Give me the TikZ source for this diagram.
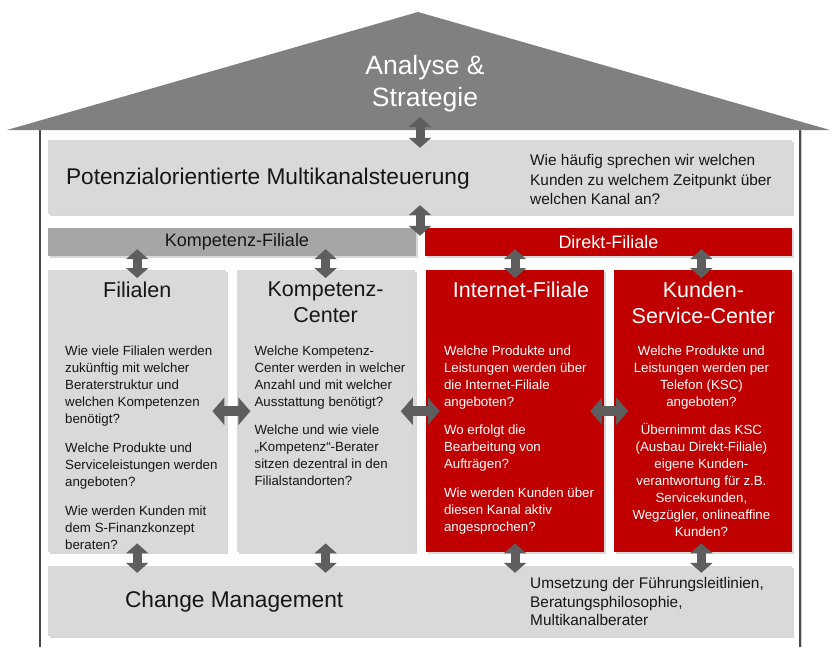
\documentclass[tikz,border=0pt]{standalone}
\usepackage{fontspec}
\setmainfont{Liberation Sans}
\usepackage{xcolor}
\usepackage{tikz}
\usetikzlibrary{positioning,arrows.meta,shadows}

\definecolor{roofgray}{HTML}{808080}
\definecolor{panelgray}{HTML}{D9D9D9}
\definecolor{bargray}{HTML}{A6A6A6}
\definecolor{sparkred}{HTML}{C00000}
\definecolor{arrowgray}{HTML}{5E5E5E}
\definecolor{wallgray}{HTML}{4A4A4A}
\definecolor{inkgray}{HTML}{161616}

\begin{document}
\begin{tikzpicture}[x=1pt, y=-1pt,
	panel/.style={fill=panelgray, inner sep=0pt, drop shadow={opacity=0.3, shadow xshift=2pt, shadow yshift=-2pt}},
	redpanel/.style={panel, fill=sparkred},
	column/.style={minimum width=178pt, minimum height=282pt},
	coltitle/.style={anchor=north, inner sep=0pt, align=center, font=\fontsize{21.5}{26}\selectfont},
	colbody/.style={anchor=north west, inner sep=0pt, align=left, font=\fontsize{13.3}{17}\selectfont},
	bartext/.style={inner sep=0pt, font=\fontsize{18}{22}\selectfont},
	sidenote/.style={anchor=west, inner sep=0pt, align=left, text=inkgray, font=\fontsize{15.4}{19.5}\selectfont},
	headline/.style={anchor=west, inner sep=0pt, text=inkgray, font=\fontsize{22.7}{27}\selectfont},
	fatarrow/.style={draw=arrowgray, line width=9pt, {Triangle[length=10pt, width=22pt]}-{Triangle[length=10pt, width=22pt]}},
	sidearrow/.style={draw=arrowgray, line width=10pt, {Triangle[length=12pt, width=27pt]}-{Triangle[length=12pt, width=27pt]}}]
	\useasboundingbox (0,0) rectangle (835,646);

	\fill[white, drop shadow={opacity=0.4, shadow xshift=2pt, shadow yshift=-1pt}] (40,130) rectangle (800,680);
	\draw[wallgray, line width=1.4pt] (40,130) -- (40,680) (800,130) -- (800,680);
	\fill[roofgray] (7,130) -- (418,12) -- (830,130) -- cycle;
	\coordinate (eaves) at (420,130);
	\node[align=center, text=white, font=\fontsize{26.5}{32}\selectfont] (strategie) at (425,84) {Analyse \&\\Strategie};

	\node[panel, minimum width=744pt, minimum height=74pt] (steuerung) at (420,177) {};
	\node[headline] (steuerungtitle) at ([xshift=18pt, yshift=-2pt]steuerung.west) {Potenzialorientierte Multikanalsteuerung};
	\node[sidenote] (steuerungnote) at ([xshift=110pt, yshift=-2.5pt]steuerung.center) {Wie häufig sprechen wir welchen\\Kunden zu welchem Zeitpunkt über\\welchen Kanal an?};

	\node[panel, fill=bargray, minimum width=368pt, minimum height=28pt] (kbar) at (232,242) {};
	\node[bartext, text=inkgray] at ([xshift=5pt]kbar.center) {Kompetenz-Filiale};
	\node[redpanel, minimum width=367pt, minimum height=28pt] (dbar) at (608.5,242) {};
	\node[bartext, text=white] at (dbar.center) {Direkt-Filiale};

	\node[panel, column, anchor=north west] (filialen) at (48,270) {};
	\node[panel, column, right=10pt of filialen] (kompetenz) {};
	\node[redpanel, column, right=11pt of kompetenz] (internet) {};
	\node[redpanel, column, right=10pt of internet] (ksc) {};

	\node[coltitle, text=inkgray] at ([yshift=-12pt]filialen.north) {Filialen};
	\node[coltitle, text=inkgray] at ([yshift=-12pt]kompetenz.north) {Kompetenz-\\Center};
	\node[coltitle, text=white] at ([xshift=6pt, yshift=-12pt]internet.north) {Internet-Filiale};
	\node[coltitle, text=white] at ([yshift=-12pt]ksc.north) {Kunden-\\Service-Center};

	\node[colbody, text=inkgray] (filialentext) at ([xshift=17pt, yshift=-76pt]filialen.north west) {Wie viele Filialen werden\\zukünftig mit welcher\\Beraterstruktur und\\welchen Kompetenzen\\benötigt?\\[12pt]Welche Produkte und\\Serviceleistungen werden\\angeboten?\\[12pt]Wie werden Kunden mit\\dem S-Finanzkonzept\\beraten?};
	\node[colbody, text=inkgray] (kompetenztext) at ([xshift=18pt, yshift=-76pt]kompetenz.north west) {Welche Kompetenz-\\Center werden in welcher\\Anzahl und mit welcher\\Ausstattung benötigt?\\[11pt]Welche und wie viele\\„Kompetenz“-Berater\\sitzen dezentral in den\\Filialstandorten?};
	\node[colbody, text=white] (internettext) at ([xshift=18pt, yshift=-76pt]internet.north west) {Welche Produkte und\\Leistungen werden über\\die Internet-Filiale\\angeboten?\\[11pt]Wo erfolgt die\\Bearbeitung von\\Aufträgen?\\[12pt]Wie werden Kunden über\\diesen Kanal aktiv\\angesprochen?};
	\node[colbody, anchor=north, align=center, text=white] (ksctext) at ([xshift=-2pt, yshift=-76pt]ksc.north) {Welche Produkte und\\Leistungen werden per\\Telefon (KSC)\\angeboten?\\[11pt]Übernimmt das KSC\\(Ausbau Direkt-Filiale)\\eigene Kunden-\\verantwortung für z.B.\\Servicekunden,\\Wegzügler, onlineaffine\\Kunden?};

	\node[panel, minimum width=744pt, minimum height=70pt] (change) at (420,601) {};
	\node[headline] (changetitle) at ([xshift=77pt, yshift=-1pt]change.west) {Change Management};
	\node[sidenote, font=\fontsize{15.4}{18.5}\selectfont] (changenote) at ([xshift=110pt, yshift=-0.5pt]change.center) {Umsetzung der Führungsleitlinien,\\Beratungsphilosophie,\\Multikanalberater};

	\draw[fatarrow, shorten <=-13pt, shorten >=-8pt] (eaves) -- (steuerung.north);
	\draw[fatarrow, shorten <=-9pt, shorten >=-8pt] (steuerung.south) -- (steuerung.south |- kbar.north);
	\draw[fatarrow, shorten <=-7pt, shorten >=-8pt] (kbar.south -| filialen.north) -- (filialen.north);
	\draw[fatarrow, shorten <=-7pt, shorten >=-8pt] (kbar.south -| kompetenz.north) -- (kompetenz.north);
	\draw[fatarrow, shorten <=-7pt, shorten >=-8pt] (dbar.south -| internet.north) -- (internet.north);
	\draw[fatarrow, shorten <=-7pt, shorten >=-8pt] ([xshift=-2pt]dbar.south -| ksc.north) -- ([xshift=-2pt]ksc.north);
	\draw[fatarrow, shorten <=-9pt, shorten >=-7pt] (filialen.south) -- (filialen.south |- change.north);
	\draw[fatarrow, shorten <=-9pt, shorten >=-7pt] (kompetenz.south) -- (kompetenz.south |- change.north);
	\draw[fatarrow, shorten <=-9pt, shorten >=-7pt] (internet.south) -- (internet.south |- change.north);
	\draw[fatarrow, shorten <=-9pt, shorten >=-7pt] ([xshift=-2pt]ksc.south) -- ([xshift=-2pt]ksc.south |- change.north);
	\draw[sidearrow, shorten <=-14pt, shorten >=-14pt] (filialen.east) -- (kompetenz.west);
	\draw[sidearrow, shorten <=-14pt, shorten >=-14pt] (kompetenz.east) -- (internet.west);
	\draw[sidearrow, shorten <=-14pt, shorten >=-14pt] (internet.east) -- (ksc.west);
\end{tikzpicture}
\end{document}
